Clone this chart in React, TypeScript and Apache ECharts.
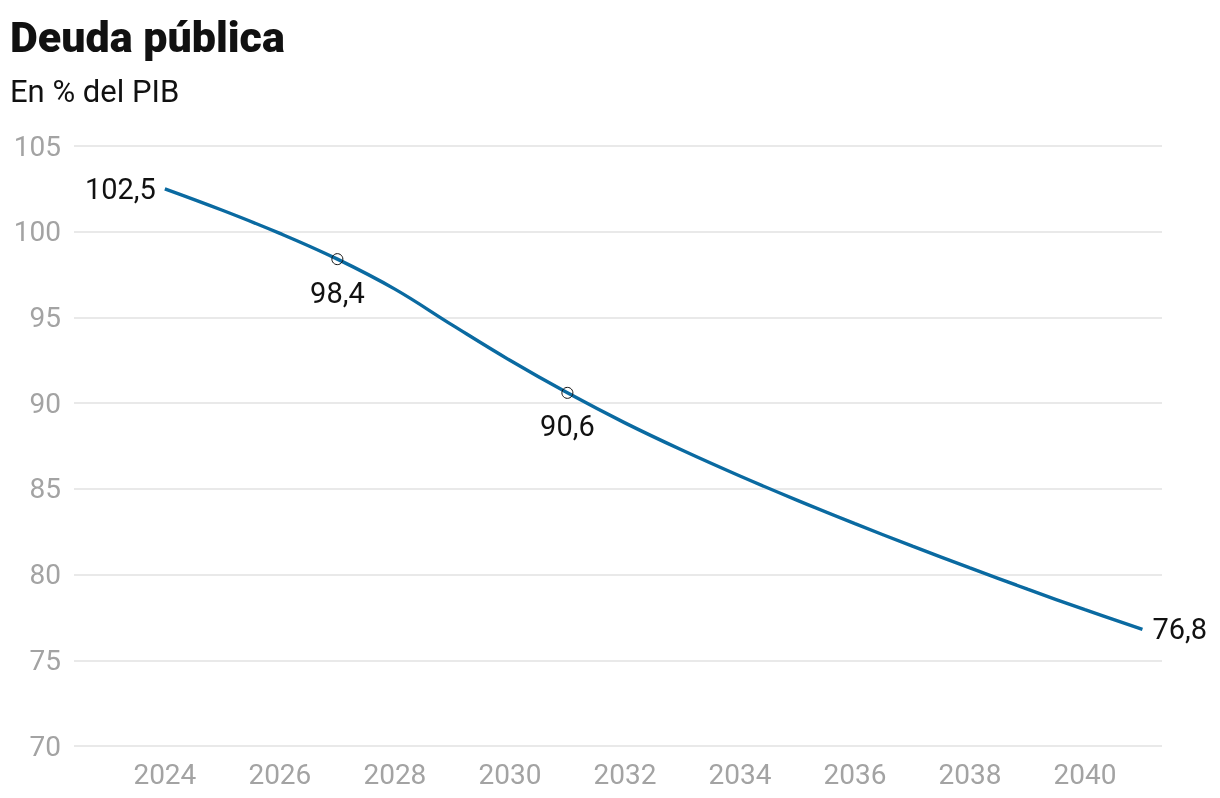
import React, { useEffect, useRef } from "react";
import * as echarts from "echarts";

const years = [2024, 2025, 2026, 2027, 2028, 2029, 2030, 2031, 2032, 2033, 2034, 2035, 2036, 2037, 2038, 2039, 2040, 2041];
const debt = [102.5, 101.25, 99.9, 98.4, 96.65, 94.55, 92.5, 90.6, 88.85, 87.25, 85.75, 84.33, 82.97, 81.66, 80.39, 79.15, 77.95, 76.8];
const xTickYears = [2024, 2026, 2028, 2030, 2032, 2034, 2036, 2038, 2040];
const markedYears = [2027, 2031];
const labelledYears = [2024, 2027, 2031, 2041];

const fmt = (v: number) => v.toFixed(1).replace(".", ",");

export default function App() {
  const ref = useRef<HTMLDivElement>(null);
  useEffect(() => {
    if (!ref.current) return;
    const chart = echarts.init(ref.current, undefined, { renderer: "svg" });
    const lineData = years.map((y, i) => [y, debt[i]]);
    const scatterData = labelledYears.map((y) => {
      const v = debt[years.indexOf(y)];
      const isFirst = y === years[0];
      const isLast = y === years[years.length - 1];
      const marked = markedYears.includes(y);
      return {
        value: [y, v],
        symbolSize: marked ? 11 : 0,
        label: {
          show: true,
          position: isFirst ? "left" : isLast ? "right" : "bottom",
          distance: isFirst ? 9 : isLast ? 10 : 13,
        },
      };
    });
    chart.setOption({
      animation: false,
      title: [
        {
          text: "Deuda pública",
          left: 5,
          top: 10,
          textStyle: { fontFamily: "Roboto", fontWeight: 900, fontSize: 43, color: "#111111" },
        },
        {
          text: "En % del PIB",
          left: 5,
          top: 71,
          textStyle: { fontFamily: "Roboto", fontWeight: 400, fontSize: 31, color: "#111111" },
        },
      ],
      grid: { left: 74, right: 58, top: 146, bottom: 52, containLabel: false },
      xAxis: {
        type: "value",
        min: 2022.42,
        max: 2041.34,
        axisLine: { show: false },
        axisTick: { show: false },
        splitLine: { show: false },
        axisLabel: {
          customValues: xTickYears,
          formatter: (v: number) => String(v),
          color: "#a3a3a3",
          fontFamily: "Roboto",
          fontSize: 28,
          margin: 14,
        },
      },
      yAxis: {
        type: "value",
        min: 70,
        max: 105,
        interval: 5,
        axisLine: { show: false },
        axisTick: { show: false },
        splitLine: { lineStyle: { color: "#e2e2e2", width: 1.5 } },
        axisLabel: {
          color: "#a3a3a3",
          fontFamily: "Roboto",
          fontSize: 28,
          margin: 13,
        },
      },
      series: [
        {
          type: "line",
          data: lineData,
          smooth: 0.4,
          symbol: "none",
          lineStyle: { color: "#0a6aa1", width: 3.4 },
          z: 2,
        },
        {
          type: "scatter",
          data: scatterData,
          symbol: "circle",
          itemStyle: { color: "rgba(255,255,255,0)", borderColor: "#111", borderWidth: 1, opacity: 1 },
          label: {
            formatter: (p: any) => fmt(p.value[1]),
            color: "#111111",
            fontFamily: "Roboto",
            fontSize: 29,
          },
          z: 3,
        },
      ],
    });
    return () => chart.dispose();
  }, []);
  return <div ref={ref} style={{ position: "fixed", left: 0, top: 0, width: 1220, height: 798 }} />;
}
